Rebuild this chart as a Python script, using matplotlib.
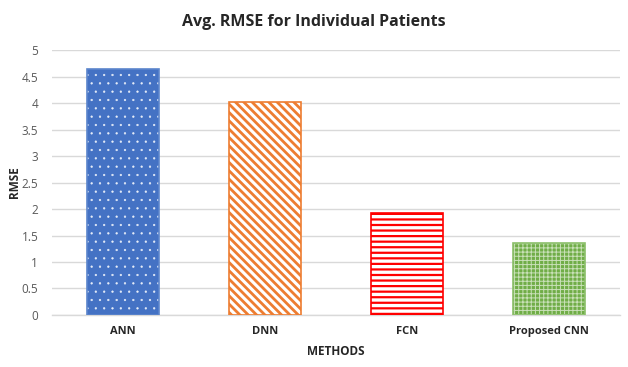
import matplotlib
matplotlib.use("Agg")
import matplotlib.pyplot as plt

methods = ["ANN", "DNN", "FCN", "Proposed CNN"]
rmse = [4.64, 4.02, 1.92, 1.36]
yticks = [0, 0.5, 1, 1.5, 2, 2.5, 3, 3.5, 4, 4.5, 5]

plt.rcParams["font.family"] = ["Open Sans", "DejaVu Sans"]

fig = plt.figure(figsize=(6.28, 3.67), dpi=100)
ax = fig.add_axes([0.083, 0.1417, 0.904, 0.722])

# per-bar styling: fill, hatch pattern, hatch colour, hatch width, outline colour
styles = [
    dict(face="#4472C4", hatch="..", hcolor="#E8EEF8", edge="#5B85CC", lw=0.4),
    dict(face="white", hatch="\\\\\\\\", hcolor="#ED7D31", edge="#ED7D31", lw=2.0),
    dict(face="white", hatch="---", hcolor="#FF0000", edge="#FF0000", lw=1.6),
    dict(face="#70AD47", hatch="++++", hcolor="#C9E0B8", edge="#8BBF6A", lw=0.7),
]

x = list(range(len(methods)))
for i, (m, v, s) in enumerate(zip(methods, rmse, styles)):
    plt.rcParams["hatch.linewidth"] = s["lw"]
    ax.bar(i, v, width=0.51, color=s["face"], edgecolor=s["hcolor"],
           hatch=s["hatch"], linewidth=0, zorder=3)
    ax.bar(i, v, width=0.51, facecolor="none", edgecolor=s["edge"],
           linewidth=1.2, zorder=4)

ax.set_xlim(-0.5, 3.5)
ax.set_ylim(0, 5)
ax.set_yticks(yticks)
ax.set_yticklabels([f"{t:g}" for t in yticks], color="#595959", fontsize=8.5)
ax.set_xticks(x)
ax.set_xticklabels(methods, fontsize=8, fontweight="bold", color="#262626")
ax.tick_params(axis="x", length=0, pad=8)
ax.tick_params(axis="y", length=0, pad=10)
ax.yaxis.grid(True, color="#D9D9D9", linewidth=1.0, zorder=0)
for side in ("top", "right", "left"):
    ax.spines[side].set_visible(False)
ax.spines["bottom"].set_color("#D9D9D9")
ax.spines["bottom"].set_linewidth(1.0)

ax.set_ylabel("RMSE", fontsize=8.5, fontweight="bold", color="#262626", labelpad=0.5)
ax.set_xlabel("METHODS", fontsize=8.5, fontweight="bold", color="#262626", labelpad=6)
fig.suptitle("Avg. RMSE for Individual Patients", fontsize=11.5,
             fontweight="bold", color="#262626", y=0.962)

fig.savefig("out.png", dpi=100)
